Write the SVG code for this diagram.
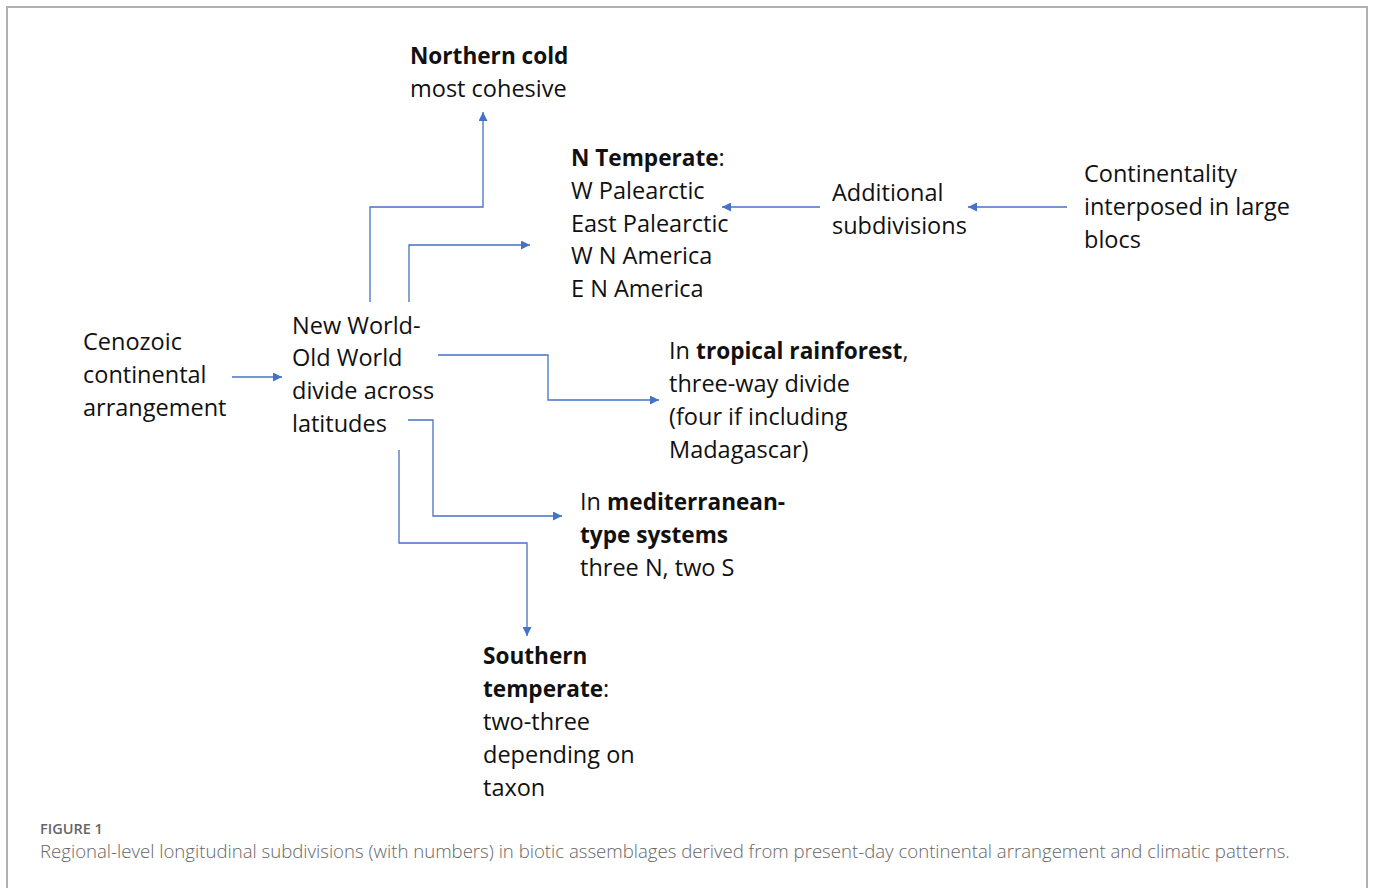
<svg xmlns="http://www.w3.org/2000/svg" width="1375" height="888" viewBox="0 0 1375 888">
<style>
.t{font-family:"Open Sans","Noto Sans","Liberation Sans",sans-serif;font-size:23.5px;fill:#111}
.b{font-weight:bold;font-size:22.6px}
.c{fill:none;stroke:#4472c4;stroke-width:1.3}
.cap{font-family:"Open Sans","Liberation Sans",sans-serif;fill:#666}
</style>
<defs>
<marker id="ah" viewBox="0 0 10 10" refX="10" refY="5" markerWidth="9" markerHeight="9" markerUnits="userSpaceOnUse" orient="auto">
<path d="M0,0 L10,5 L0,10 z" fill="#4472c4"/>
</marker>
</defs>
<rect x="0" y="0" width="1375" height="888" fill="#fff"/>
<rect x="7" y="7" width="1360" height="900" fill="none" stroke="#b0b0b0" stroke-width="2"/>
<g id="connectors">
<path class="c" d="M232,377 H282" marker-end="url(#ah)"/>
<path class="c" d="M370,302 V207 H483 V112" marker-end="url(#ah)"/>
<path class="c" d="M409,302 V245 H530" marker-end="url(#ah)"/>
<path class="c" d="M438,355 H548 V400 H659" marker-end="url(#ah)"/>
<path class="c" d="M408,420 H433 V516 H562" marker-end="url(#ah)"/>
<path class="c" d="M399,450 V543 H527 V636" marker-end="url(#ah)"/>
<path class="c" d="M820,207 H722" marker-end="url(#ah)"/>
<path class="c" d="M1067,207 H968" marker-end="url(#ah)"/>
</g>
<g id="northern-cold"><text class="t" x="410" y="64"><tspan class="b">Northern cold</tspan><tspan x="410" y="97">most cohesive</tspan></text></g>
<g id="n-temperate"><text class="t" x="571" y="166"><tspan class="b">N Temperate</tspan>:<tspan x="571" y="199">W Palearctic</tspan><tspan x="571" y="232">East Palearctic</tspan><tspan x="571" y="264">W N America</tspan><tspan x="571" y="297">E N America</tspan></text></g>
<g id="additional"><text class="t" x="832" y="201">Additional<tspan x="832" y="234">subdivisions</tspan></text></g>
<g id="continentality"><text class="t" x="1084" y="182">Continentality<tspan x="1084" y="215">interposed in large</tspan><tspan x="1084" y="248">blocs</tspan></text></g>
<g id="cenozoic"><text class="t" x="83" y="350">Cenozoic<tspan x="83" y="383">continental</tspan><tspan x="83" y="416">arrangement</tspan></text></g>
<g id="new-world"><text class="t" x="292" y="334">New World-<tspan x="292" y="366">Old World</tspan><tspan x="292" y="399">divide across</tspan><tspan x="292" y="432">latitudes</tspan></text></g>
<g id="tropical"><text class="t" x="669" y="359">In <tspan class="b">tropical rainforest</tspan>,<tspan x="669" y="392">three-way divide</tspan><tspan x="669" y="425">(four if including</tspan><tspan x="669" y="458">Madagascar)</tspan></text></g>
<g id="mediterranean"><text class="t" x="580" y="510">In <tspan class="b">mediterranean-</tspan><tspan x="580" y="543" class="b">type systems</tspan><tspan x="580" y="576">three N, two S</tspan></text></g>
<g id="southern"><text class="t" x="483" y="664"><tspan class="b">Southern</tspan><tspan x="483" y="697" class="b">temperate</tspan>:<tspan x="483" y="730">two-three</tspan><tspan x="483" y="763">depending on</tspan><tspan x="483" y="796">taxon</tspan></text></g>
<g id="caption">
<text class="cap" x="40" y="834" font-size="14.5" font-weight="600">FIGURE 1</text>
<text class="cap" x="40" y="858" font-size="18.6" font-weight="300">Regional-level longitudinal subdivisions (with numbers) in biotic assemblages derived from present-day continental arrangement and climatic patterns.</text>
</g>
</svg>
